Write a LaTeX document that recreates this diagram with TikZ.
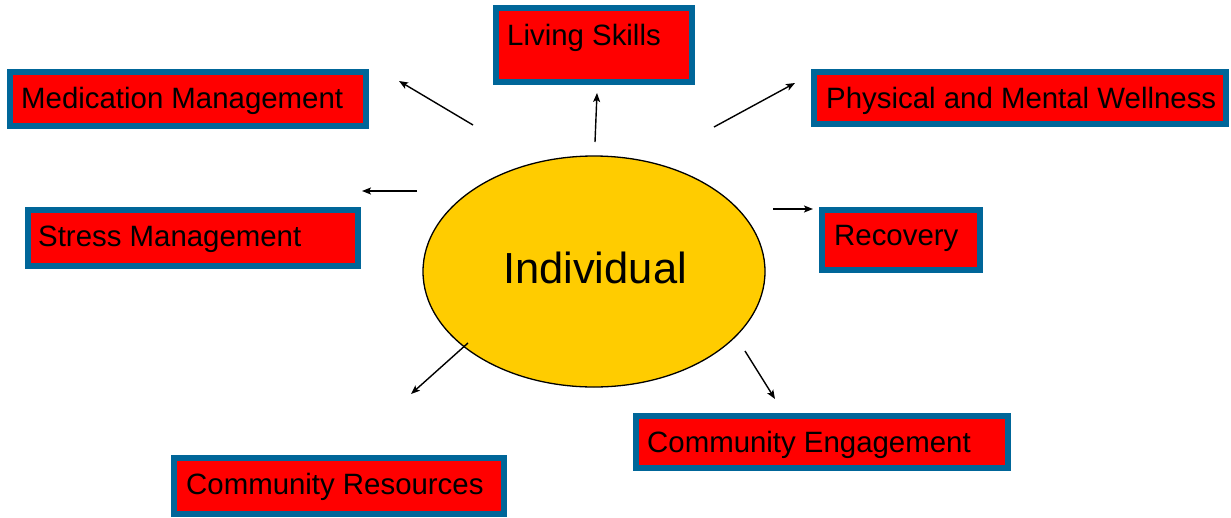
\documentclass[tikz,border=0pt]{standalone}
\usepackage{fontspec}
\setmainfont{Liberation Sans}
\usepackage{xcolor}
\usetikzlibrary{shapes.geometric,positioning,arrows.meta}
\definecolor{boxblue}{RGB}{0,102,153}
\definecolor{ovalyellow}{RGB}{255,204,0}

\begin{document}
\begin{tikzpicture}[x=1pt, y=-1pt,
            box/.style={rectangle, draw=boxblue, fill=red, line width=6pt, inner sep=0pt},
            boxtext/.style={anchor=base west, inner sep=0pt, font=\fontsize{29.4}{34}\selectfont},
            link/.style={-{Stealth[length=9pt, width=7pt, inset=2pt]}, line width=1.4pt}
        ]
        \useasboundingbox (0,0) rectangle (1231,517);

        \node[ellipse, draw=black, line width=1.3pt, fill=ovalyellow, minimum width=342pt, minimum height=231pt, inner sep=0pt] (indiv) at (594,271.5) {};
        \node[anchor=base, inner sep=0pt, font=\fontsize{43.5}{52}\selectfont] (indivtxt) at (595,283) {Individual};

        \node[box, minimum width=356pt, minimum height=54pt] (med) at (188,99) {};
        \node[box, minimum width=196pt, minimum height=74pt] (living) at (594,45) {};
        \node[box, minimum width=412pt, minimum height=52pt] (wellness) at (1020,98) {};
        \node[box, minimum width=330pt, minimum height=56pt] (stress) at (193,238) {};
        \node[box, minimum width=158pt, minimum height=60pt] (recovery) at (901,240) {};
        \node[box, minimum width=372pt, minimum height=52pt] (engage) at (822,442) {};
        \node[box, minimum width=330pt, minimum height=56pt] (resources) at (339,486) {};

        \node[boxtext] (medtxt) at (21,108) {Medication Management};
        \node[boxtext] (livingtxt) at (507,45) {Living Skills};
        \node[boxtext] (wellnesstxt) at (826,108) {Physical and Mental Wellness};
        \node[boxtext] (stresstxt) at (38,246) {Stress Management};
        \node[boxtext] (recoverytxt) at (834,245) {Recovery};
        \node[boxtext] (engagetxt) at (647,452) {Community Engagement};
        \node[boxtext] (resourcestxt) at (186,494) {Community Resources};

        \coordinate (medfrom) at (473,125);
        \coordinate (medto) at (399,81);
        \coordinate (livingfrom) at (595,142);
        \coordinate (livingto) at (597,93);
        \coordinate (wellnessfrom) at (714,127);
        \coordinate (wellnessto) at (795,83);
        \coordinate (stressfrom) at (417,191);
        \coordinate (stressto) at (362,191);
        \coordinate (recoveryfrom) at (773,209);
        \coordinate (recoveryto) at (813,209);
        \coordinate (resourcesfrom) at (468,343);
        \coordinate (resourcesto) at (411,394);
        \coordinate (engagefrom) at (745,351);
        \coordinate (engageto) at (775,399);

        \draw[link] (medfrom) -- (medto);
        \draw[link] (livingfrom) -- (livingto);
        \draw[link] (wellnessfrom) -- (wellnessto);
        \draw[link] (stressfrom) -- (stressto);
        \draw[link] (recoveryfrom) -- (recoveryto);
        \draw[link] (resourcesfrom) -- (resourcesto);
        \draw[link] (engagefrom) -- (engageto);

    \end{tikzpicture}
\end{document}
